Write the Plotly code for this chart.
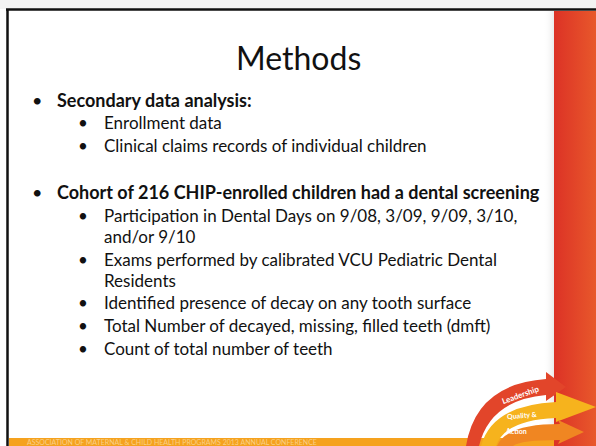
import plotly.graph_objects as go

W, H = 596, 446
FONT = "Lato"

title = "Methods"
line_texts = [
    "Secondary data analysis:",
    "Enrollment data",
    "Clinical claims records of individual children",
    "Cohort of 216 CHIP-enrolled children had a dental screening",
    "Participation in Dental Days on 9/08, 3/09, 9/09, 3/10,",
    "and/or 9/10",
    "Exams performed by calibrated VCU Pediatric Dental",
    "Residents",
    "Identified presence of decay on any tooth surface",
    "Total Number of decayed, missing, filled teeth (dmft)",
    "Count of total number of teeth",
]
line_levels = [1, 2, 2, 1, 2, 2, 2, 2, 2, 2, 2]
line_bullet = [True, True, True, True, True, False, True, False, True, True, True]
line_y = [100, 122, 145, 192, 215, 236, 259, 280, 302, 325, 348]
footer_text = "ASSOCIATION OF MATERNAL & CHILD HEALTH PROGRAMS 2013 ANNUAL CONFERENCE"
logo_words = ["Leadership", "Quality &", "Action"]

fig = go.Figure()

shapes = []
shapes.append(dict(type="rect", x0=0, x1=W, y0=0, y1=9, line_width=0, fillcolor="#f3f3f3", layer="below"))
shapes.append(dict(type="line", x0=6, x1=W, y0=9.5, y1=9.5, line=dict(color="#111111", width=2.5)))
shapes.append(dict(type="line", x0=7.5, x1=7.5, y0=9, y1=H, line=dict(color="#111111", width=2.5)))
fig.add_trace(go.Scatter(x=[543, 554, 554, 543, 543], y=[11, 11, 438, 438, 11], mode="lines",
                         fill="toself", line_width=0, hoverinfo="skip", showlegend=False,
                         fillgradient=dict(type="horizontal",
                                           colorscale=[[0, "rgba(255,255,255,0)"], [1, "#ebebeb"]])))
fig.add_trace(go.Scatter(x=[554, W, W, 554, 554], y=[11, 11, H, H, 11], mode="lines",
                         fill="toself", line_width=0, hoverinfo="skip", showlegend=False,
                         fillgradient=dict(type="horizontal",
                                           colorscale=[[0, "#dc3226"], [1, "#e8582b"]])))
shapes.append(dict(type="rect", x0=9, x1=554, y0=438, y1=H, line_width=0, fillcolor="#f5a21e"))

# logo arrows
shapes.append(dict(type="path",
                   path="M 466,446 Q 476,384 546,379 L 546,372 L 566,387 L 546,401 L 546,395 Q 490,400 479,446 Z",
                   fillcolor="#e2452a", line_width=0))
shapes.append(dict(type="path",
                   path="M 481,446 Q 492,405 556,402 L 556,392 L 596,407 L 556,422 L 556,418 Q 505,420 496,446 Z",
                   fillcolor="#f6b31d", line_width=0))
shapes.append(dict(type="path",
                   path="M 497,446 Q 506,424 560,424 L 558,420 L 584,432 L 558,444 L 560,440 Q 520,440 513,446 Z",
                   fillcolor="#f08622", line_width=0))

fig.update_layout(shapes=shapes)

ann = []
ann.append(dict(x=298, y=57, text=title, showarrow=False, xanchor="center", yanchor="middle",
                font=dict(family=FONT, size=32, color="#111111")))

x_bullet = {1: 37, 2: 83}
x_text = {1: 55, 2: 102}
f_size = {1: 18, 2: 17}
for txt, lvl, bul, yy in zip(line_texts, line_levels, line_bullet, line_y):
    if bul:
        ann.append(dict(x=x_bullet[lvl], y=yy, text="•", showarrow=False, xanchor="center", yanchor="middle",
                        font=dict(family=FONT, size=f_size[lvl], color="#111111")))
    ann.append(dict(x=x_text[lvl], y=yy, text=f"<b>{txt}</b>" if lvl == 1 else txt, showarrow=False,
                    xanchor="left", yanchor="middle",
                    font=dict(family=FONT, size=f_size[lvl], color="#111111")))

ann.append(dict(x=25, y=442, text=footer_text, showarrow=False, xanchor="left", yanchor="middle",
                font=dict(family=FONT, size=7, color="#f9cf86")))
ann.append(dict(x=520, y=395, text="<b>" + logo_words[0] + "</b>", showarrow=False, textangle=-20,
                xanchor="center", yanchor="middle", font=dict(family=FONT, size=8, color="white")))
ann.append(dict(x=522, y=415, text="<b>" + logo_words[1] + "</b>", showarrow=False, textangle=-5,
                xanchor="center", yanchor="middle", font=dict(family=FONT, size=7, color="white")))
ann.append(dict(x=516, y=431, text="<b>" + logo_words[2] + "</b>", showarrow=False,
                xanchor="center", yanchor="middle", font=dict(family=FONT, size=7, color="white")))

fig.update_layout(
    annotations=ann,
    width=W, height=H,
    margin=dict(l=0, r=0, t=0, b=0),
    paper_bgcolor="white", plot_bgcolor="white",
    xaxis=dict(range=[0, W], visible=False, fixedrange=True),
    yaxis=dict(range=[H, 0], visible=False, fixedrange=True),
    showlegend=False,
)
fig.write_html("out.html", config={"displayModeBar": False},
               post_script="document.body.style.margin='0';document.body.style.overflow='hidden';")
